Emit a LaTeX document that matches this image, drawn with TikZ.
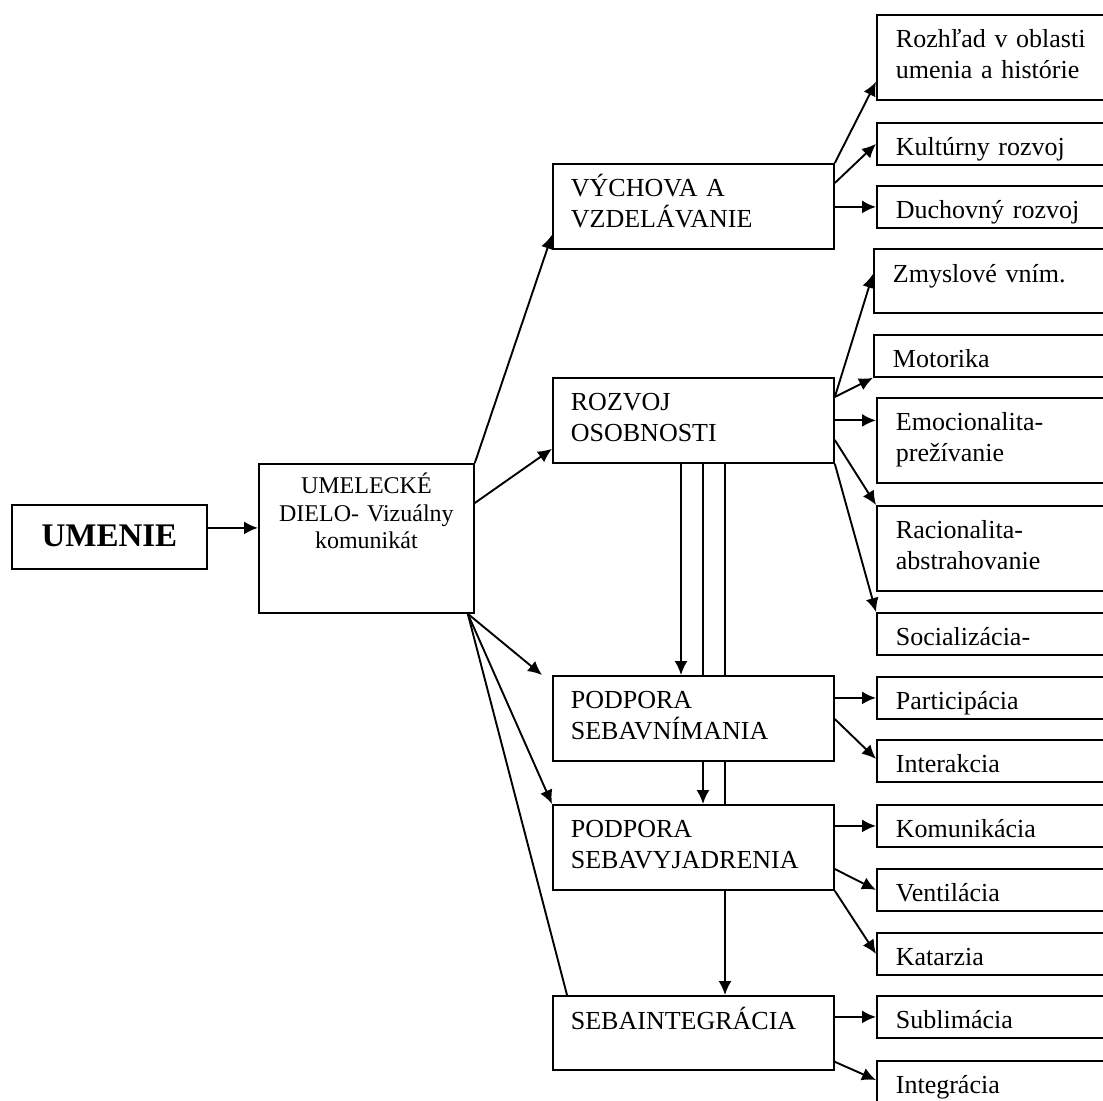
\documentclass[tikz,border=0pt]{standalone}
\usepackage{fontspec}
\setmainfont{Liberation Serif}
\usepackage{tikz}
\usetikzlibrary{arrows.meta,positioning,calc}
\tikzset{
  stage/.style={draw, line width=0.9pt, anchor=north west, align=left,
    font=\fontsize{13}{15.5}\selectfont, inner xsep=9pt, inner ysep=0pt, text width=122.5pt},
  effect/.style={stage, inner xsep=9.5pt, text width=130pt},
  twoline/.style={text height=16.5pt, text depth=26pt},
  oneline/.style={text height=16.5pt, text depth=4.5pt},
  wire/.style={-{Latex[length=7pt,width=6.5pt]}, line width=0.95pt},
  link/.style={line width=0.95pt}
}

\begin{document}
\begin{tikzpicture}[x=0.5pt, y=-0.5pt]
  \useasboundingbox (0,0) rectangle (1103,1100);
  \clip (0,0) rectangle (1103,1100);
  \node[draw, line width=0.9pt, anchor=north west, minimum width=97.5pt, inner sep=0pt,
    font=\fontsize{16.5}{18}\selectfont\bfseries, text height=21pt, text depth=11pt] (umenie) at (11,504) {UMENIE};
  \node[draw, line width=0.9pt, anchor=north west, text width=107.5pt, align=center, inner sep=0pt,
    font=\fontsize{12}{13.75}\selectfont, text height=15pt, text depth=59.5pt] (umelecke) at (258,463) {UMELECKÉ\\DIELO- Vizuálny\\komunikát};

  \node[stage, twoline] (vychova) at (552,163) {VÝCHOVA A\\VZDELÁVANIE};
  \node[stage, twoline] (rozvoj) at (552,377) {ROZVOJ\\OSOBNOSTI};
  \node[stage, twoline] (sebavnim) at (552,675) {PODPORA\\SEBAVNÍMANIA};
  \node[stage, twoline] (sebavyj) at (552,804) {PODPORA\\SEBAVYJADRENIA};
  \node[stage, text height=17pt, text depth=20pt] (sebaint) at (552,995) {SEBAINTEGRÁCIA};

  \node[effect, twoline] (rozhlad) at (876,14) {Rozhľad v oblasti\\umenia a histórie};
  \node[effect, oneline] (kulturny) at (876,122) {Kultúrny rozvoj};
  \node[effect, oneline] (duchovny) at (876,185) {Duchovný rozvoj};
  \node[effect, text height=17pt, text depth=15pt] (zmyslove) at (873,248) {Zmyslové vním.};
  \node[effect, oneline] (motorika) at (873,334) {Motorika};
  \node[effect, twoline] (emocion) at (876,397) {Emocionalita-\\prežívanie};
  \node[effect, twoline] (racional) at (876,505) {Racionalita-\\abstrahovanie};
  \node[effect, oneline] (social) at (876,612) {Socializácia-};
  \node[effect, oneline] (particip) at (876,676) {Participácia};
  \node[effect, oneline] (interakc) at (876,739) {Interakcia};
  \node[effect, oneline] (komunik) at (876,804) {Komunikácia};
  \node[effect, oneline] (ventil) at (876,868) {Ventilácia};
  \node[effect, oneline] (katarz) at (876,932) {Katarzia};
  \node[effect, oneline] (sublim) at (876,995) {Sublimácia};
  \node[effect, oneline] (integr) at (876,1060) {Integrácia};

  \draw[wire] ([yshift=4.5pt]umenie.east) -- ([yshift=4.5pt]umenie.east -| umelecke.west);
  \draw[wire] (umelecke.north east) -- ([yshift=7.5pt]vychova.south west);
  \draw[wire] ([yshift=-20pt]umelecke.north east) -- ([yshift=7.5pt]rozvoj.south west);
  \draw[wire] ([xshift=-3.5pt]umelecke.south east) -- ([xshift=-5pt]sebavnim.north west);
  \draw[wire] ([xshift=-3.5pt]umelecke.south east) -- (sebavyj.north west);
  \draw[link] ([xshift=-3.5pt]umelecke.south east) -- ([xshift=7.5pt]sebaint.north west);

  \draw[wire] ([xshift=64.5pt]rozvoj.south west) -- ([xshift=64.5pt]sebavnim.north west);
  \draw[link] ([xshift=75.5pt]rozvoj.south west) -- ([xshift=75.5pt]sebavnim.north west);
  \draw[wire] ([xshift=75.5pt]sebavnim.south west) -- ([xshift=75.5pt]sebavyj.north west);
  \draw[link] ([xshift=86.5pt]rozvoj.south west) -- ([xshift=86.5pt]sebavnim.north west);
  \draw[link] ([xshift=86.5pt]sebavnim.south west) -- ([xshift=86.5pt]sebavyj.north west);
  \draw[wire] ([xshift=86.5pt]sebavyj.south west) -- ([xshift=86.5pt]sebaint.north west);

  \draw[wire] (vychova.north east) -- ([yshift=9.5pt]rozhlad.south west);
  \draw[wire] ([yshift=-10pt]vychova.north east) -- (kulturny.west);
  \draw[wire] (vychova.east |- duchovny.west) -- (duchovny.west);

  \draw[wire] ([yshift=-10pt]rozvoj.north east) -- ([yshift=3.5pt]zmyslove.west);
  \draw[wire] ([yshift=-10pt]rozvoj.north east) -- (motorika.south west);
  \draw[wire] (rozvoj.east) -- (rozvoj.east -| emocion.west);
  \draw[wire] ([yshift=-31.5pt]rozvoj.north east) -- (racional.north west);
  \draw[wire] (rozvoj.south east) -- (social.north west);

  \draw[wire] (sebavnim.east |- particip.west) -- (particip.west);
  \draw[wire] ([yshift=-22pt]sebavnim.north east) -- ([yshift=1pt]interakc.west);

  \draw[wire] (sebavyj.east |- komunik.west) -- (komunik.west);
  \draw[wire] ([yshift=-32.5pt]sebavyj.north east) -- (ventil.west);
  \draw[wire] (sebavyj.south east) -- (katarz.west);

  \draw[wire] (sebaint.east |- sublim.west) -- (sublim.west);
  \draw[wire] ([yshift=4.5pt]sebaint.south east) -- ([yshift=-10pt]integr.north west);
\end{tikzpicture}
\end{document}
